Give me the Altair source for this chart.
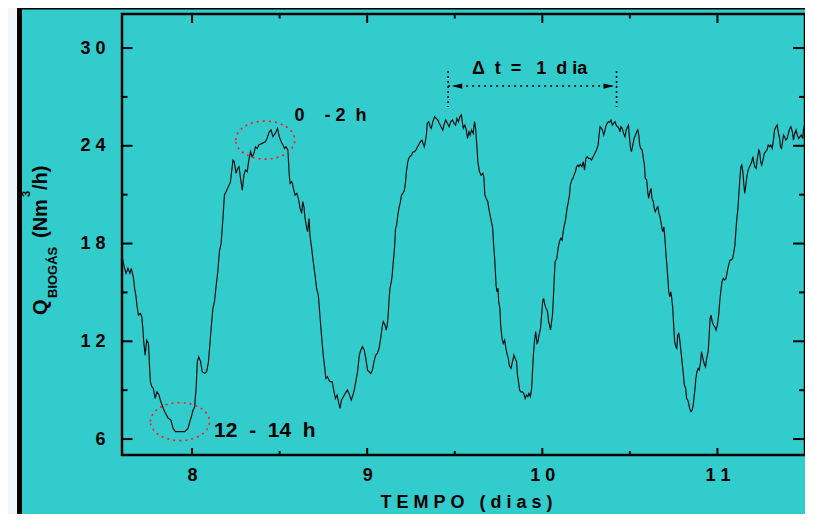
import altair as alt
import pandas as pd

# ---- trace: (day, Q biogas Nm3/h) ----
seg_a = [(7.600, 17.19), (7.615, 16.48), (7.623, 16.17), (7.634, 16.48), (7.645, 16.17), (7.653, 16.48),
         (7.666, 15.86), (7.672, 15.25), (7.679, 14.84), (7.685, 14.22), (7.694, 13.61), (7.705, 13.71),
         (7.713, 13.51), (7.719, 12.79), (7.724, 11.97), (7.732, 11.15), (7.741, 12.07), (7.751, 11.87),
         (7.756, 10.75), (7.762, 9.52), (7.770, 9.21), (7.779, 9.11), (7.789, 8.49), (7.800, 8.90),
         (7.811, 8.70), (7.822, 8.29), (7.836, 7.88), (7.849, 7.57), (7.864, 7.27), (7.879, 7.17),
         (7.892, 6.65), (7.905, 6.45), (7.930, 6.45), (7.958, 6.45), (7.977, 6.65), (7.987, 7.06),
         (7.996, 7.37), (8.006, 7.78), (8.015, 7.98), (8.024, 9.31), (8.030, 10.75), (8.038, 11.05),
         (8.049, 10.75), (8.058, 10.13), (8.072, 10.03), (8.083, 10.13), (8.094, 10.75), (8.100, 11.57),
         (8.109, 12.79), (8.119, 14.02), (8.128, 14.43), (8.138, 15.45), (8.147, 16.27), (8.156, 17.50),
         (8.166, 18.01), (8.175, 19.34), (8.185, 20.98), (8.194, 21.18), (8.207, 21.49), (8.219, 21.75),
         (8.226, 22.41), (8.234, 23.12), (8.241, 23.02), (8.251, 22.31), (8.260, 22.61), (8.268, 22.72)]
seg_b = [(8.277, 22.00), (8.287, 21.28), (8.296, 22.20), (8.305, 22.51), (8.315, 22.41), (8.324, 23.12),
         (8.334, 23.64), (8.343, 23.33), (8.353, 23.53), (8.362, 23.94), (8.372, 23.84), (8.381, 24.05),
         (8.400, 24.15), (8.419, 24.25), (8.428, 24.45), (8.441, 24.86), (8.451, 24.97), (8.462, 24.56),
         (8.475, 24.76), (8.488, 25.07), (8.498, 24.56), (8.509, 24.25), (8.519, 24.05), (8.528, 23.84),
         (8.536, 23.94), (8.547, 23.74), (8.551, 23.02), (8.555, 22.20), (8.560, 21.69), (8.570, 21.80),
         (8.579, 21.39), (8.588, 20.98), (8.598, 21.08), (8.607, 20.77), (8.617, 20.16), (8.626, 19.85),
         (8.632, 20.57), (8.639, 20.26), (8.645, 19.54), (8.655, 18.93), (8.660, 18.73), (8.668, 19.54),
         (8.673, 18.52), (8.683, 17.70), (8.692, 16.88), (8.702, 16.07), (8.711, 15.25), (8.721, 14.84),
         (8.730, 13.61), (8.739, 12.38), (8.749, 11.15), (8.758, 10.34), (8.764, 9.72), (8.773, 9.82),
         (8.787, 9.52), (8.800, 9.52), (8.811, 8.90), (8.819, 8.49), (8.828, 8.70), (8.838, 8.19),
         (8.845, 7.88), (8.853, 8.39), (8.864, 8.60), (8.875, 8.80), (8.887, 9.01), (8.896, 8.80),
         (8.909, 8.39), (8.919, 8.70), (8.928, 9.11)]
seg_c = [(8.945, 10.13), (8.955, 11.15), (8.964, 11.46), (8.973, 11.67), (8.983, 11.46), (8.992, 10.95),
         (9.002, 10.23), (9.011, 10.13), (9.021, 10.03), (9.030, 10.23), (9.039, 10.75), (9.049, 11.15),
         (9.058, 11.26), (9.068, 11.57), (9.077, 12.18), (9.087, 13.00), (9.092, 13.20), (9.102, 13.00),
         (9.109, 12.69), (9.115, 13.00), (9.121, 13.81), (9.124, 14.43), (9.130, 15.25), (9.138, 15.66),
         (9.143, 16.07), (9.149, 16.88), (9.156, 17.70), (9.162, 18.93), (9.168, 19.13), (9.175, 19.75),
         (9.181, 20.16), (9.190, 20.57), (9.196, 20.98), (9.204, 21.08), (9.213, 21.28), (9.219, 21.80),
         (9.224, 22.41), (9.232, 23.02), (9.238, 23.23), (9.243, 23.33), (9.253, 23.43), (9.260, 23.60),
         (9.270, 23.64), (9.279, 23.74), (9.287, 23.94), (9.294, 24.05), (9.304, 24.25), (9.313, 24.35),
         (9.319, 24.15), (9.326, 23.94), (9.332, 24.25), (9.338, 24.66), (9.343, 25.38), (9.351, 25.48),
         (9.360, 25.17), (9.366, 25.07), (9.375, 25.48), (9.385, 25.79), (9.394, 25.68), (9.404, 25.58),
         (9.411, 25.38), (9.422, 25.17), (9.432, 24.97), (9.441, 25.38), (9.449, 25.58), (9.458, 25.38),
         (9.468, 25.17), (9.477, 25.48), (9.487, 25.58), (9.496, 25.38), (9.505, 25.27), (9.513, 25.68),
         (9.521, 25.48), (9.530, 25.79), (9.538, 25.89), (9.543, 25.48), (9.549, 25.07), (9.558, 25.27),
         (9.566, 24.97), (9.573, 24.45), (9.581, 24.86), (9.588, 24.66), (9.596, 24.97), (9.605, 24.76)]
seg_d = [(9.613, 25.48), (9.619, 25.07), (9.626, 24.05), (9.632, 23.02), (9.641, 22.41), (9.651, 22.20),
         (9.660, 22.31), (9.666, 22.10), (9.672, 20.98), (9.679, 20.77), (9.689, 20.57), (9.694, 20.16),
         (9.702, 19.75), (9.709, 19.34), (9.717, 18.93), (9.722, 17.91), (9.728, 17.09), (9.732, 16.27),
         (9.736, 15.45), (9.741, 15.04), (9.747, 15.25), (9.751, 14.43), (9.758, 14.02), (9.762, 13.00),
         (9.770, 12.18), (9.777, 11.87), (9.785, 12.07), (9.792, 11.57), (9.800, 11.15), (9.806, 10.95),
         (9.811, 10.54), (9.821, 10.34), (9.830, 10.75), (9.838, 11.15), (9.845, 10.95), (9.853, 10.75),
         (9.858, 9.93), (9.864, 9.52), (9.870, 9.01), (9.877, 8.90), (9.887, 8.90), (9.894, 8.80),
         (9.902, 8.49), (9.909, 8.70), (9.917, 8.60), (9.924, 8.80), (9.932, 8.60), (9.939, 9.11),
         (9.943, 9.93), (9.949, 11.15), (9.955, 11.97), (9.962, 12.59), (9.970, 11.87), (9.975, 11.97),
         (9.981, 12.38), (9.990, 12.79), (9.996, 13.61), (10.002, 14.43), (10.007, 14.63), (10.015, 14.22),
         (10.022, 14.02), (10.030, 13.81), (10.036, 13.20), (10.041, 13.00), (10.047, 12.69), (10.053, 13.20),
         (10.058, 13.61), (10.064, 14.84), (10.068, 15.86), (10.073, 16.88), (10.083, 17.09), (10.090, 17.70),
         (10.098, 18.11), (10.105, 18.32), (10.113, 18.21), (10.119, 18.73), (10.126, 19.13), (10.134, 19.54),
         (10.141, 20.16), (10.149, 20.57), (10.155, 20.98), (10.160, 21.59), (10.168, 21.90), (10.175, 22.00),
         (10.181, 22.20), (10.189, 22.41), (10.196, 22.72), (10.204, 22.82), (10.209, 22.72), (10.217, 22.86),
         (10.226, 22.72), (10.234, 23.02), (10.241, 22.51), (10.249, 23.23), (10.256, 23.33), (10.264, 23.23),
         (10.273, 23.23)]
seg_e = [(10.281, 23.12), (10.290, 23.33), (10.300, 23.53), (10.309, 23.74), (10.319, 24.05), (10.324, 24.66),
         (10.330, 25.17), (10.338, 25.07), (10.343, 24.97), (10.351, 24.66), (10.356, 24.86), (10.362, 25.17),
         (10.370, 25.38), (10.377, 25.48), (10.385, 25.44), (10.392, 25.58), (10.400, 25.27), (10.407, 25.38),
         (10.415, 25.48), (10.422, 25.27), (10.430, 25.17), (10.438, 25.07), (10.443, 24.86), (10.449, 25.17),
         (10.456, 25.07), (10.464, 24.76), (10.472, 24.56), (10.479, 24.97), (10.487, 25.17), (10.492, 25.27),
         (10.498, 24.45), (10.504, 23.84), (10.509, 23.64), (10.517, 24.05), (10.524, 24.45), (10.532, 24.66),
         (10.539, 24.86), (10.545, 24.97), (10.551, 24.66), (10.556, 24.05), (10.562, 23.84), (10.570, 23.74),
         (10.577, 23.23), (10.583, 22.82), (10.588, 22.00), (10.596, 21.90), (10.602, 21.18), (10.607, 20.77),
         (10.615, 21.18), (10.621, 21.39), (10.626, 20.77), (10.634, 20.57), (10.639, 20.16), (10.645, 19.95),
         (10.653, 20.16), (10.660, 20.26), (10.666, 19.85), (10.672, 19.65), (10.677, 19.34), (10.683, 18.93),
         (10.688, 18.73), (10.694, 19.03), (10.700, 18.32), (10.705, 17.50), (10.711, 16.68), (10.717, 15.86),
         (10.722, 15.04), (10.728, 14.74), (10.734, 15.04), (10.739, 14.63), (10.745, 14.02), (10.751, 12.79),
         (10.756, 11.97), (10.762, 11.67), (10.768, 11.57), (10.773, 12.38), (10.779, 12.48), (10.785, 12.07),
         (10.790, 11.57), (10.796, 10.95), (10.804, 10.13), (10.811, 9.31), (10.819, 9.11), (10.824, 8.49),
         (10.830, 8.39), (10.836, 8.19), (10.841, 7.88), (10.849, 7.68), (10.856, 7.78), (10.862, 8.09),
         (10.868, 8.70)]
seg_f = [(10.872, 9.11), (10.877, 9.72), (10.883, 10.13), (10.890, 10.34), (10.896, 10.23), (10.904, 10.75),
         (10.909, 11.36), (10.917, 10.95), (10.924, 10.64), (10.932, 10.44), (10.939, 10.95), (10.947, 11.36),
         (10.953, 12.38), (10.958, 13.41), (10.964, 13.61), (10.970, 13.20), (10.977, 13.00), (10.985, 12.89),
         (10.992, 12.69), (11.000, 13.00), (11.007, 13.61), (11.013, 14.43), (11.019, 15.04), (11.026, 15.66),
         (11.034, 15.86), (11.041, 15.76), (11.049, 15.86), (11.056, 16.27), (11.064, 16.68), (11.072, 16.99),
         (11.079, 16.99), (11.087, 17.09), (11.094, 17.50), (11.100, 17.91), (11.105, 18.73), (11.111, 19.54),
         (11.117, 20.16), (11.122, 20.98), (11.128, 22.00), (11.134, 22.72), (11.139, 22.82), (11.145, 22.41),
         (11.151, 21.59), (11.156, 21.08), (11.162, 21.59), (11.168, 22.10), (11.175, 22.51), (11.183, 22.72),
         (11.188, 22.82), (11.196, 23.02), (11.202, 23.33), (11.207, 23.02), (11.213, 22.72), (11.221, 22.61),
         (11.228, 23.23), (11.236, 23.74), (11.241, 23.64), (11.247, 23.02), (11.253, 22.82), (11.260, 23.12),
         (11.268, 23.53), (11.275, 23.64), (11.283, 23.74), (11.290, 24.05), (11.298, 23.94), (11.305, 24.05),
         (11.313, 23.84), (11.321, 24.45), (11.326, 24.97), (11.334, 25.17), (11.341, 25.27), (11.347, 24.86),
         (11.355, 24.45), (11.360, 23.94), (11.366, 23.84), (11.372, 24.25), (11.377, 24.66), (11.383, 24.56),
         (11.390, 24.35), (11.398, 24.45), (11.405, 24.76), (11.413, 25.07), (11.420, 25.17), (11.428, 24.86),
         (11.434, 24.35), (11.441, 24.76), (11.449, 24.97), (11.456, 24.66), (11.464, 24.45), (11.472, 24.56),
         (11.479, 24.66), (11.487, 24.45), (11.492, 25.07), (11.498, 25.27)]

x_major = [8, 9, 10, 11]
x_minor = [8.5, 9.5, 10.5]
y_major = [6, 12, 18, 24, 30]
y_minor = [9, 15, 21, 27]

# annotations (data coordinates)
ellipse_x = [8.418, 7.931]
ellipse_y = [24.35, 7.07]
delta_x = [9.462, 10.424]
delta_y_top, delta_y_bot, delta_y_arrow = 28.59, 26.38, 27.67

trace = seg_a + seg_b + seg_c + seg_d + seg_e + seg_f
df = pd.DataFrame(trace, columns=["dias", "q"])

W, H = 683, 441
NB = "\u00a0"
FONT = "Liberation Sans, Arial, sans-serif"
xs = alt.Scale(domain=[7.6, 11.5], nice=False, zero=False)
ys = alt.Scale(domain=[5.02, 32.09], nice=False, zero=False)
one = pd.DataFrame({"a": [0]})

spaced = ("length(datum.label) > 1 ? slice(datum.label, 0, 1) + '" + NB + "' + slice(datum.label, 1)"
          " : datum.label")

x_axis = alt.Axis(values=x_major, labelExpr=spaced, ticks=False, tickSize=0, domain=False, grid=False,
                  labelFont=FONT, labelFontSize=18, labelFontWeight="bold", labelColor="black",
                  labelPadding=11, title=None)
y_axis = alt.Axis(values=y_major, labelExpr=spaced, ticks=False, tickSize=0, domain=False, grid=False,
                  labelFont=FONT, labelFontSize=18, labelFontWeight="bold", labelColor="black",
                  labelPadding=17, title=None)


def X(field):
    return alt.X(field, scale=xs, axis=x_axis)


def Y(field):
    return alt.Y(field, scale=ys, axis=y_axis)


line = alt.Chart(df).mark_line(color="#111111", strokeWidth=1.2, clip=True).encode(
    x=X("dias:Q"), y=Y("q:Q"))


def xticks(vals, y0, y1):
    return alt.Chart(pd.DataFrame({"dias": vals})).mark_rule(color="black", strokeWidth=2).encode(
        x=X("dias:Q"), y=alt.value(y0), y2=alt.value(y1))


def yticks(vals, x0, x1):
    return alt.Chart(pd.DataFrame({"q": vals})).mark_rule(color="black", strokeWidth=2).encode(
        y=Y("q:Q"), x=alt.value(x0), x2=alt.value(x1))


ticks = [
    xticks(x_major, H, H - 7), xticks(x_minor, H, H - 4),
    xticks(x_major, 0, 9), xticks(x_minor, 0, 4.5),
    yticks(y_major, 0, 10.5), yticks(y_minor, 0, 5.5),
    yticks(y_major, W, W - 12), yticks(y_minor, W, W - 6),
]

ELLIPSE = ("M -1 0 C -1 -0.356 -0.552 -0.644 0 -0.644 C 0.552 -0.644 1 -0.356 1 0 "
           "C 1 0.356 0.552 0.644 0 0.644 C -0.552 0.644 -1 0.356 -1 0 Z")
ellipses = alt.Chart(pd.DataFrame({"dias": ellipse_x, "q": ellipse_y})).mark_point(
    shape=ELLIPSE, size=3481, filled=False, color="#FF1A1A", strokeWidth=1.6,
    strokeDash=[2, 4], opacity=1).encode(x=X("dias:Q"), y=Y("q:Q"))

vlines = alt.Chart(pd.DataFrame({"dias": delta_x, "q": [delta_y_top] * 2, "q2": [delta_y_bot] * 2})).mark_rule(
    color="black", strokeWidth=1.6, strokeDash=[2, 3]).encode(x=X("dias:Q"), y=Y("q:Q"), y2="q2:Q")

hline = alt.Chart(pd.DataFrame({"dias": delta_x, "q": [delta_y_arrow] * 2})).mark_line(
    color="black", strokeWidth=1.6, strokeDash=[2, 4]).encode(x=X("dias:Q"), y=Y("q:Q"))

LEFT_HEAD = "M -1 0 L 1 -0.5 L 1 0.5 Z"
RIGHT_HEAD = "M 1 0 L -1 -0.5 L -1 0.5 Z"
head_l = alt.Chart(pd.DataFrame({"dias": [9.513], "q": [delta_y_arrow]})).mark_point(
    shape=LEFT_HEAD, size=110, filled=True, color="black", opacity=1).encode(x=X("dias:Q"), y=Y("q:Q"))
head_r = alt.Chart(pd.DataFrame({"dias": [10.379], "q": [delta_y_arrow]})).mark_point(
    shape=RIGHT_HEAD, size=110, filled=True, color="black", opacity=1).encode(x=X("dias:Q"), y=Y("q:Q"))


def note(text, x, y, size, align="left"):
    return alt.Chart(pd.DataFrame({"dias": [x], "q": [y]})).mark_text(
        text=text, font=FONT, fontSize=size, fontWeight="bold", color="black",
        align=align, baseline="middle").encode(x=X("dias:Q"), y=Y("q:Q"))


notes = [
    note("Δ" + NB * 2 + "t" + NB * 2 + "=" + NB * 3 + "1" + NB * 2 + "d" + NB + "ia", 9.598, 28.71, 18),
    note("0" + NB * 4 + "-" + NB + "2" + NB * 2 + "h", 8.585, 25.83, 18),
    note("12" + NB * 2 + "-" + NB * 2 + "14" + NB * 2 + "h", 8.126, 6.49, 21),
]


def ptext(text, x, y, size, angle=0, align="left", baseline="alphabetic"):
    return alt.Chart(one).mark_text(
        text=text, font=FONT, fontSize=size, fontWeight="bold", color="black",
        align=align, baseline=baseline, angle=angle).encode(x=alt.value(x), y=alt.value(y))


titles = [
    ptext("T" + NB + "E" + NB + "M" + NB + "P" + NB + "O" + NB * 3 + "(" + NB + "d" + NB + "i" + NB
          + "a" + NB + "s" + NB + ")", (W + 6) / 2, 494, 18, align="center"),
    ptext("Q", -75, 301, 20, angle=270),
    ptext("BIOGÁS", -65, 284, 13, angle=270),
    ptext("(Nm", -75, 224, 20, angle=270),
    ptext("3", -92, 183, 11, angle=270),
    ptext("/h)", -75, 176, 20, angle=270),
]


def prect(x0, x1, y0, y1, color):
    return alt.Chart(one).mark_rect(color=color, opacity=1).encode(
        x=alt.value(x0), x2=alt.value(x1), y=alt.value(y0), y2=alt.value(y1))


frame = [
    prect(-114, -105, -6, 520, "#F2F6FA"),
    prect(-105, -100, -6, 520, "black"),
    prect(-105, W, -6, -4.6, "black"),
]

chart = alt.layer(line, *frame, *ticks, ellipses, vlines, hline, head_l, head_r, *notes, *titles).properties(
    width=W, height=H,
    padding={"left": 114, "top": 6, "right": 0, "bottom": 59},
    autosize=alt.AutoSizeParams(type="none"),
).configure(background="#33CCCC").configure_view(stroke="black", strokeWidth=2.5)

chart.save("out.html", embed_options={"renderer": "svg", "actions": False})
